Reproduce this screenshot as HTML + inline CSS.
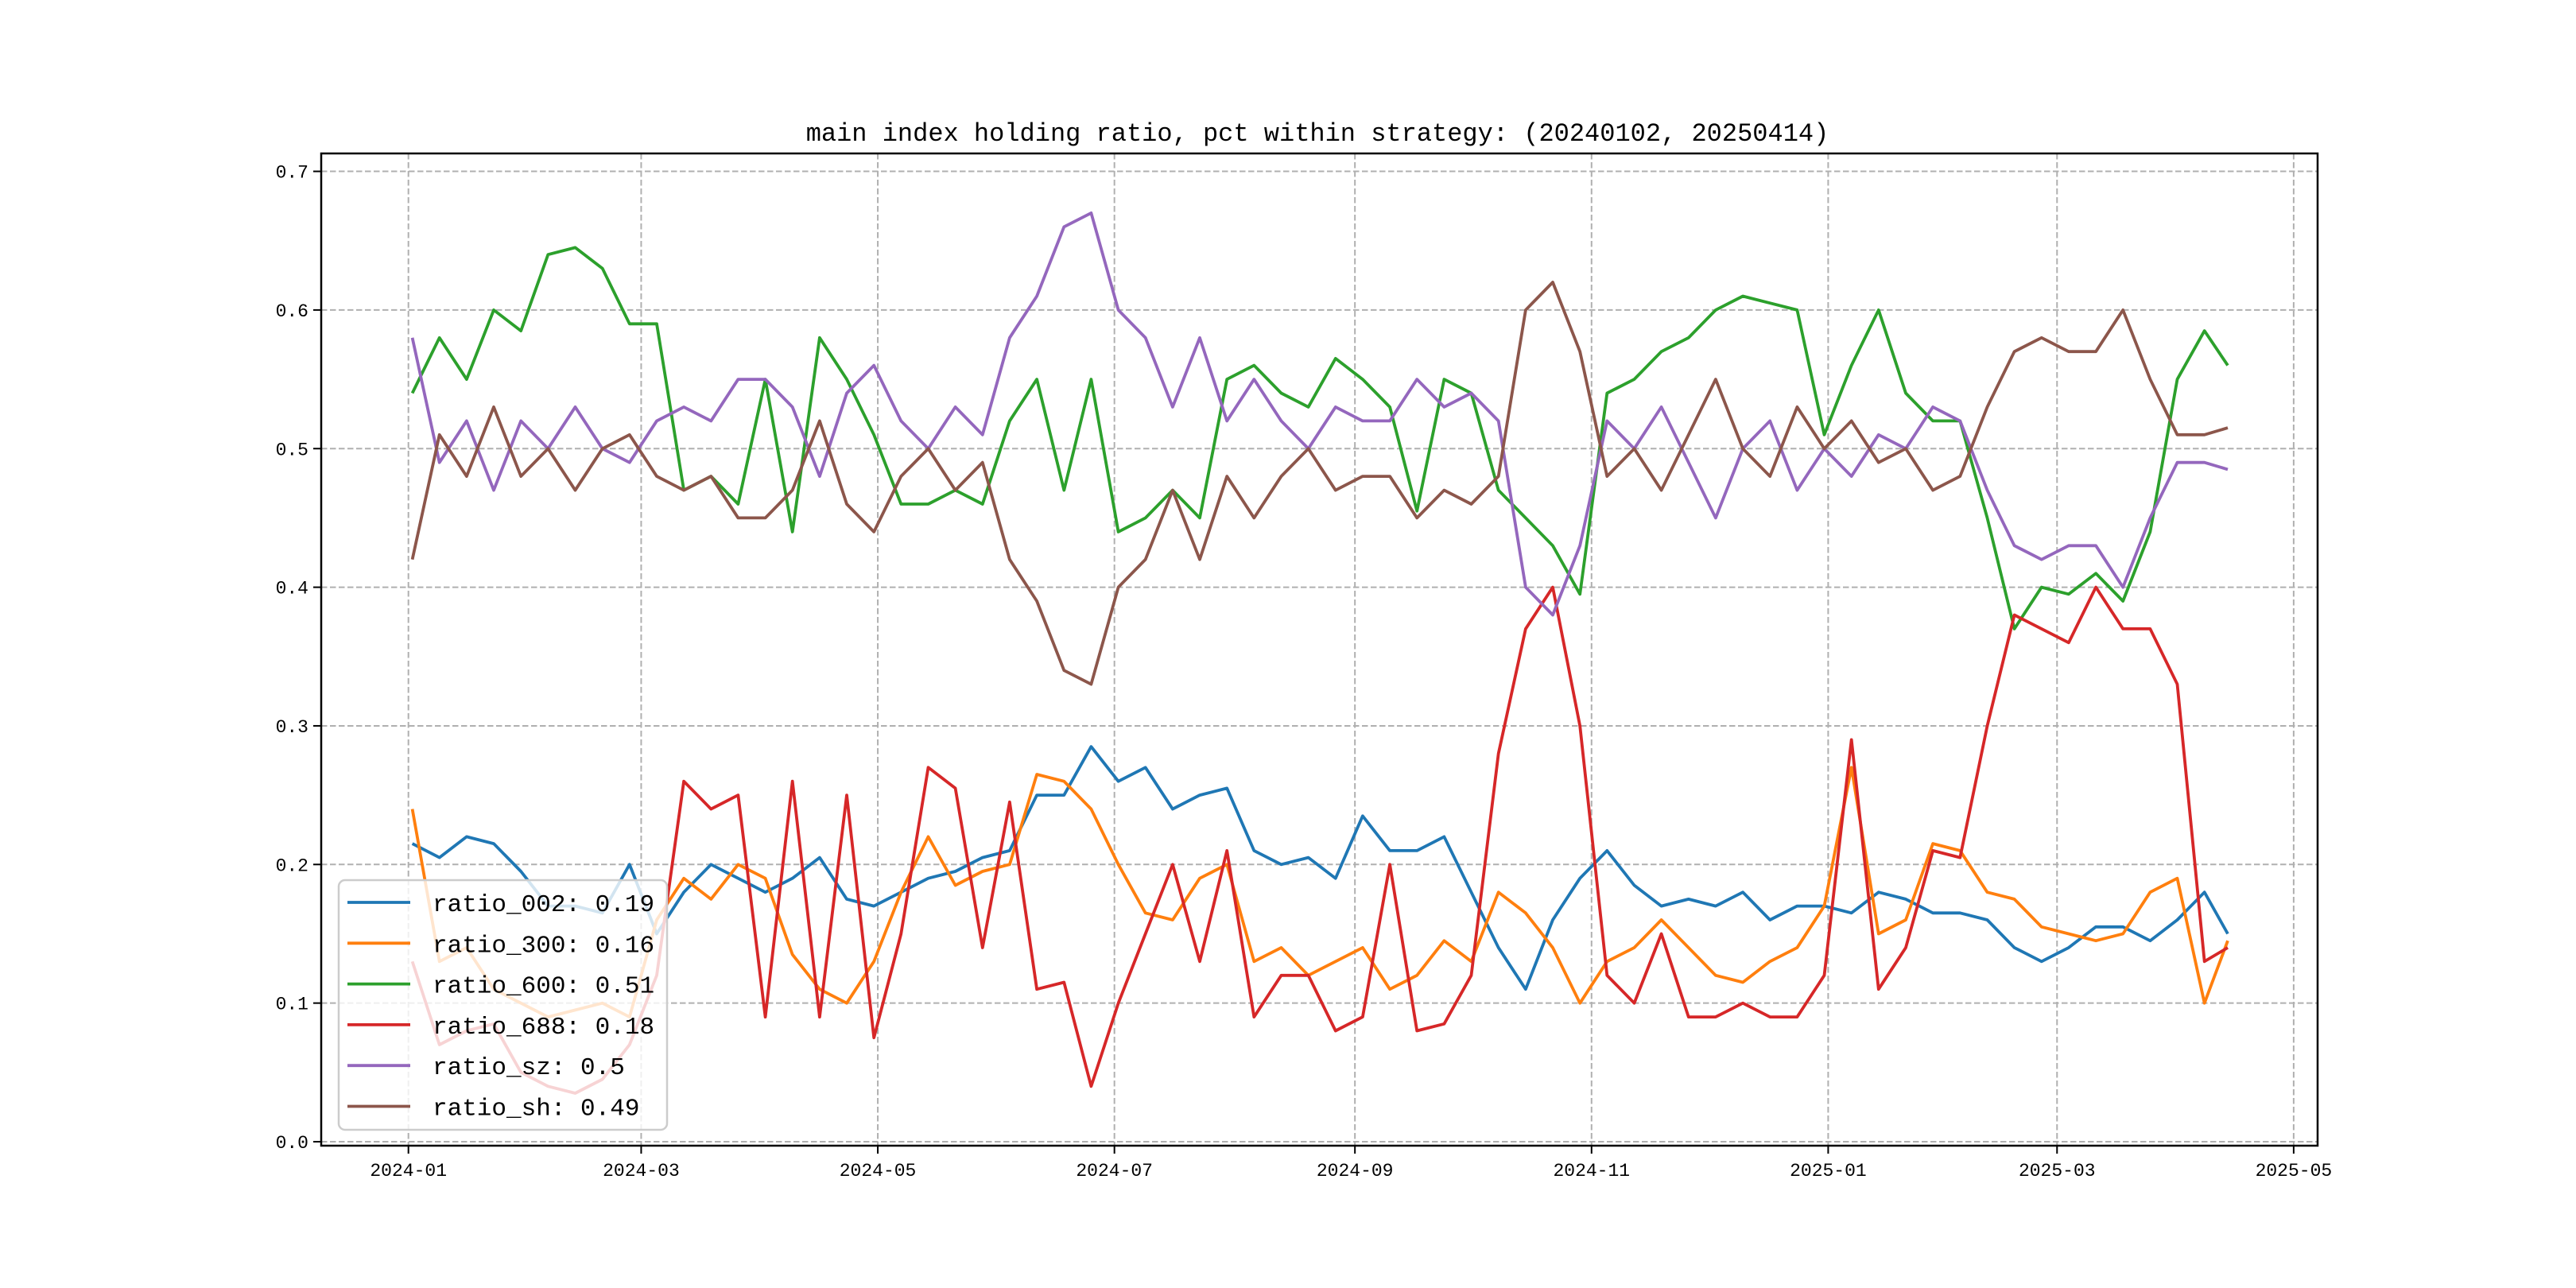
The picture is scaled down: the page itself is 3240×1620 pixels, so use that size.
<!DOCTYPE html>
<html><head><meta charset="utf-8"><title>main index holding ratio</title>
<style>
html,body{margin:0;padding:0;background:#fff;}
svg{display:block;font-family:"Liberation Mono","Noto Sans CJK SC",monospace;}
</style></head>
<body>
<svg id="chart" width="3240" height="1620" viewBox="0 0 3240 1620" xmlns="http://www.w3.org/2000/svg">
<rect x="0" y="0" width="3240" height="1620" fill="#fff"/>
<text x="1657" y="177" font-size="32" text-anchor="middle" fill="#000">main index holding ratio, pct within strategy: (20240102, 20250414)</text>
<g id="grid"></g>
<g id="series"></g>
<rect x="404" y="193" width="2511" height="1248" fill="none" stroke="#000" stroke-width="2.5"/>
<g id="ticks"></g>
<g id="legend"></g>
</svg>
<script>
const dates=["2024-01-02","2024-01-09","2024-01-16","2024-01-23","2024-01-30","2024-02-06","2024-02-13","2024-02-20","2024-02-27","2024-03-05","2024-03-12","2024-03-19","2024-03-26","2024-04-02","2024-04-09","2024-04-16","2024-04-23","2024-04-30","2024-05-07","2024-05-14","2024-05-21","2024-05-28","2024-06-04","2024-06-11","2024-06-18","2024-06-25","2024-07-02","2024-07-09","2024-07-16","2024-07-23","2024-07-30","2024-08-06","2024-08-13","2024-08-20","2024-08-27","2024-09-03","2024-09-10","2024-09-17","2024-09-24","2024-10-01","2024-10-08","2024-10-15","2024-10-22","2024-10-29","2024-11-05","2024-11-12","2024-11-19","2024-11-26","2024-12-03","2024-12-10","2024-12-17","2024-12-24","2024-12-31","2025-01-07","2025-01-14","2025-01-21","2025-01-28","2025-02-04","2025-02-11","2025-02-18","2025-02-25","2025-03-04","2025-03-11","2025-03-18","2025-03-25","2025-04-01","2025-04-08","2025-04-14"];
const ratio002=[0.215,0.205,0.22,0.215,0.195,0.17,0.17,0.165,0.20,0.15,0.18,0.20,0.19,0.18,0.19,0.205,0.175,0.17,0.18,0.19,0.195,0.205,0.21,0.25,0.25,0.285,0.26,0.27,0.24,0.25,0.255,0.21,0.20,0.205,0.19,0.235,0.21,0.21,0.22,0.18,0.14,0.11,0.16,0.19,0.21,0.185,0.17,0.175,0.17,0.18,0.16,0.17,0.17,0.165,0.18,0.175,0.165,0.165,0.16,0.14,0.13,0.14,0.155,0.155,0.145,0.16,0.18,0.15];
const ratio300=[0.24,0.13,0.14,0.11,0.10,0.09,0.095,0.10,0.09,0.16,0.19,0.175,0.20,0.19,0.135,0.11,0.10,0.13,0.18,0.22,0.185,0.195,0.20,0.265,0.26,0.24,0.20,0.165,0.16,0.19,0.20,0.13,0.14,0.12,0.13,0.14,0.11,0.12,0.145,0.13,0.18,0.165,0.14,0.10,0.13,0.14,0.16,0.14,0.12,0.115,0.13,0.14,0.17,0.27,0.15,0.16,0.215,0.21,0.18,0.175,0.155,0.15,0.145,0.15,0.18,0.19,0.10,0.145];
const ratio600=[0.54,0.58,0.55,0.60,0.585,0.64,0.645,0.63,0.59,0.59,0.47,0.48,0.46,0.55,0.44,0.58,0.55,0.51,0.46,0.46,0.47,0.46,0.52,0.55,0.47,0.55,0.44,0.45,0.47,0.45,0.55,0.56,0.54,0.53,0.565,0.55,0.53,0.455,0.55,0.54,0.47,0.45,0.43,0.395,0.54,0.55,0.57,0.58,0.60,0.61,0.605,0.60,0.51,0.56,0.60,0.54,0.52,0.52,0.45,0.37,0.40,0.395,0.41,0.39,0.44,0.55,0.585,0.56];
const ratio688=[0.13,0.07,0.08,0.085,0.05,0.04,0.035,0.045,0.07,0.12,0.26,0.24,0.25,0.09,0.26,0.09,0.25,0.075,0.15,0.27,0.255,0.14,0.245,0.11,0.115,0.04,0.10,0.15,0.20,0.13,0.21,0.09,0.12,0.12,0.08,0.09,0.20,0.08,0.085,0.12,0.28,0.37,0.40,0.30,0.12,0.10,0.15,0.09,0.09,0.10,0.09,0.09,0.12,0.29,0.11,0.14,0.21,0.205,0.30,0.38,0.37,0.36,0.40,0.37,0.37,0.33,0.13,0.14];
const ratioSz=[0.58,0.49,0.52,0.47,0.52,0.50,0.53,0.50,0.49,0.52,0.53,0.52,0.55,0.55,0.53,0.48,0.54,0.56,0.52,0.50,0.53,0.51,0.58,0.61,0.66,0.67,0.60,0.58,0.53,0.58,0.52,0.55,0.52,0.50,0.53,0.52,0.52,0.55,0.53,0.54,0.52,0.40,0.38,0.43,0.52,0.50,0.53,0.49,0.45,0.50,0.52,0.47,0.50,0.48,0.51,0.50,0.53,0.52,0.47,0.43,0.42,0.43,0.43,0.40,0.45,0.49,0.49,0.485];
const ratioSh=[0.42,0.51,0.48,0.53,0.48,0.50,0.47,0.50,0.51,0.48,0.47,0.48,0.45,0.45,0.47,0.52,0.46,0.44,0.48,0.50,0.47,0.49,0.42,0.39,0.34,0.33,0.40,0.42,0.47,0.42,0.48,0.45,0.48,0.50,0.47,0.48,0.48,0.45,0.47,0.46,0.48,0.60,0.62,0.57,0.48,0.50,0.47,0.51,0.55,0.50,0.48,0.53,0.50,0.52,0.49,0.50,0.47,0.48,0.53,0.57,0.58,0.57,0.57,0.60,0.55,0.51,0.51,0.515];
const seriesNames=["ratio_002","ratio_300","ratio_600","ratio_688","ratio_sz","ratio_sh"];
const legendValues=["0.19","0.16","0.51","0.18","0.5","0.49"];
const yTicks=[0,0.1,0.2,0.3,0.4,0.5,0.6,0.7];
const yTickLabels=["0.0","0.1","0.2","0.3","0.4","0.5","0.6","0.7"];
const xTicks=["2024-01-01","2024-03-01","2024-05-01","2024-07-01","2024-09-01","2024-11-01","2025-01-01","2025-03-01","2025-05-01"];
const xTickLabels=["2024-01","2024-03","2024-05","2024-07","2024-09","2024-11","2025-01","2025-03","2025-05"];

const NS="http://www.w3.org/2000/svg";
const colors=["#1f77b4","#ff7f0e","#2ca02c","#d62728","#9467bd","#8c564b"];
const seriesData=[ratio002,ratio300,ratio600,ratio688,ratioSz,ratioSh];
const T0=Date.UTC(2024,0,1);
function dayOf(s){const p=s.split("-");return (Date.UTC(+p[0],+p[1]-1,+p[2])-T0)/86400000;}
function xScale(s){return 513.7+dayOf(s)*4.879;}
function yScale(v){return 1436-v*1743.5;}
function mk(tag,attrs,parent){const e=document.createElementNS(NS,tag);for(const k in attrs)e.setAttribute(k,attrs[k]);parent.appendChild(e);return e;}

const grid=document.getElementById("grid");
const ticks=document.getElementById("ticks");
yTicks.forEach((v,i)=>{
  const y=yScale(v);
  const g=mk("line",{x1:404,x2:2915,y1:y,y2:y,stroke:"#b0b0b0","stroke-width":2,"stroke-dasharray":"7.5,3.5"},grid);
  
  
  const t=mk("line",{x1:394,x2:404,y1:y,y2:y,stroke:"#000","stroke-width":2},ticks);
  
  
  const l=mk("text",{x:388,y:y+8,"font-size":23,"text-anchor":"end",fill:"#000"},ticks);
  l.textContent=yTickLabels[i];
  
  
});
xTicks.forEach((d,i)=>{
  const x=xScale(d);
  const g=mk("line",{x1:x,x2:x,y1:193,y2:1441,stroke:"#b0b0b0","stroke-width":2,"stroke-dasharray":"7.5,3.5"},grid);
  
  
  const t=mk("line",{x1:x,x2:x,y1:1441,y2:1451,stroke:"#000","stroke-width":2},ticks);
  
  
  const l=mk("text",{x:x,y:1479,"font-size":23,"text-anchor":"middle",fill:"#000"},ticks);
  l.textContent=xTickLabels[i];
  
  
});

const sg=document.getElementById("series");
seriesData.forEach((arr,si)=>{
  const pts=arr.map((v,i)=>xScale(dates[i]).toFixed(1)+","+yScale(v).toFixed(1)).join(" ");
  const p=mk("polyline",{points:pts,fill:"none",stroke:colors[si],"stroke-width":3.8,"stroke-linejoin":"round"},sg);
  
  
});

const lg=document.getElementById("legend");
const box=mk("rect",{x:426,y:1107,width:413,height:314,rx:8,fill:"#fff","fill-opacity":0.8,stroke:"#cccccc","stroke-width":2.5},lg);


seriesNames.forEach((n,i)=>{
  const y=1135+i*51.3;
  const h=mk("line",{x1:437,x2:516,y1:y,y2:y,stroke:colors[i],"stroke-width":3.8},lg);
  
  
  const t=mk("text",{x:544,y:y+11,"font-size":31,fill:"#000"},lg);
  t.textContent=n+": "+legendValues[i];
  
  
});
</script>
</body></html>
